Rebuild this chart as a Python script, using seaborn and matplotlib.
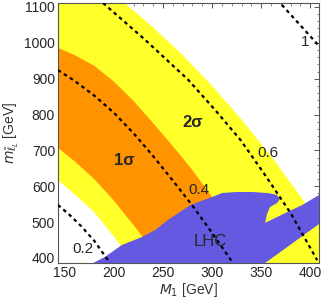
import numpy as np
import pandas as pd
import matplotlib
matplotlib.use("Agg")
import matplotlib.pyplot as plt
import seaborn as sns
from matplotlib.ticker import MultipleLocator

# band boundaries (M1, m)
yellow_upper_x = [143, 211, 240, 270, 300, 330, 360, 390, 409]
yellow_upper_y = [1111, 1111, 1043, 966, 880, 786, 684, 572, 498]
yellow_lower_x = [143, 160, 180, 200, 215, 222]
yellow_lower_y = [617, 578, 528, 460, 405, 386]

orange_upper_x = [143, 160, 180, 200, 220, 240, 260, 280, 300, 320]
orange_upper_y = [986, 966, 936, 892, 838, 776, 712, 645, 570, 490]
orange_lower_x = [143, 160, 180, 200, 220, 240]
orange_lower_y = [707, 670, 620, 560, 492, 420]

lhc_x = [178, 179, 191, 208, 229, 242, 255, 278, 286, 300, 310, 324, 341, 357,
         366, 369, 366, 359, 356, 354, 375, 392, 409, 409, 354, 354]
lhc_y = [380, 386, 403, 436, 459, 478, 506, 548, 556, 570, 581, 584, 584, 581,
         576, 564, 553, 542, 523, 498, 526, 548, 576, 495, 386, 380]

# dotted contour lines
c02_x = [143, 155, 167, 180, 196]
c02_y = [548, 520, 488, 448, 386]
c04_x = [143, 160, 180, 200, 220, 240, 260, 280, 300, 320]
c04_y = [924, 894, 853, 805, 748, 684, 616, 546, 470, 391]
c06_x = [189, 232, 276, 303, 329, 354, 380, 407]
c06_y = [1111, 1008, 896, 813, 729, 631, 525, 394]
c1_x = [371, 408]
c1_y = [1106, 994]

sns.set_style("white")
plt.rcParams["font.family"] = ["Liberation Sans", "DejaVu Sans"]
plt.rcParams["mathtext.fontset"] = "dejavusans"

fig = plt.figure(figsize=(3.27, 3.03), dpi=100)
ax = fig.add_axes([0.177, 0.132, 0.799, 0.858])

yellow = "#FFFF2A"
orange = "#FF9400"
blue = "#6459E0"

# yellow band (2 sigma)
yx = yellow_upper_x + [409, 222] + yellow_lower_x[::-1]
yy = yellow_upper_y + [380, 380] + yellow_lower_y[::-1]
ax.fill(yx, yy, color=yellow, lw=0, zorder=1)

# orange band (1 sigma)
ox = orange_upper_x + orange_lower_x[::-1]
oy = orange_upper_y + orange_lower_y[::-1]
ax.fill(ox, oy, color=orange, lw=0, zorder=2)

# LHC exclusion
ax.fill(lhc_x, lhc_y, color=blue, lw=0, zorder=3)

lines = [("0.2", c02_x, c02_y), ("0.4", c04_x, c04_y),
         ("0.6", c06_x, c06_y), ("1", c1_x, c1_y)]
for name, xs, ys in lines:
    df = pd.DataFrame({"M1": xs, "m": ys})
    sns.lineplot(data=df, x="M1", y="m", sort=False, color="black", lw=1.6,
                 linestyle=(0, (1.6, 1.6)), ax=ax, zorder=4)

ax.text(169, 425, "0.2", fontsize=11, ha="center", va="center", zorder=5)
ax.text(287, 590, "0.4", fontsize=11, ha="center", va="center", zorder=5)
ax.text(357, 693, "0.6", fontsize=11, ha="center", va="center", zorder=5)
ax.text(395, 1002, "1", fontsize=11, ha="center", va="center", zorder=5)
ax.text(211, 673, "1σ", fontsize=12, fontweight="bold", ha="center", va="center", zorder=5)
ax.text(280, 779, "2σ", fontsize=12, fontweight="bold", ha="center", va="center", zorder=5)
ax.text(298, 445, "LHC", fontsize=12, ha="center", va="center", zorder=5)

ax.set_xlim(143, 409)
ax.set_ylim(386, 1111)
ax.set_xticks([150, 200, 250, 300, 350, 400])
ax.set_yticks([400, 500, 600, 700, 800, 900, 1000, 1100])
ax.xaxis.set_minor_locator(MultipleLocator(10))
ax.yaxis.set_minor_locator(MultipleLocator(20))
ax.tick_params(which="both", direction="in", top=True, right=True,
               labelsize=10, color="#555555", pad=2)
ax.tick_params(which="major", length=3.5, width=0.7)
ax.tick_params(which="minor", length=1.8, width=0.5)
for s in ax.spines.values():
    s.set_color("#555555")
    s.set_linewidth(0.8)

ax.set_xlabel(r"$M_1$ [GeV]", fontsize=10, color="#333333", labelpad=1)
ax.set_ylabel(r"$m_{\tilde{\ell}_L}$ [GeV]", fontsize=10, color="#333333", labelpad=2)

fig.savefig("out.png", dpi=100)
